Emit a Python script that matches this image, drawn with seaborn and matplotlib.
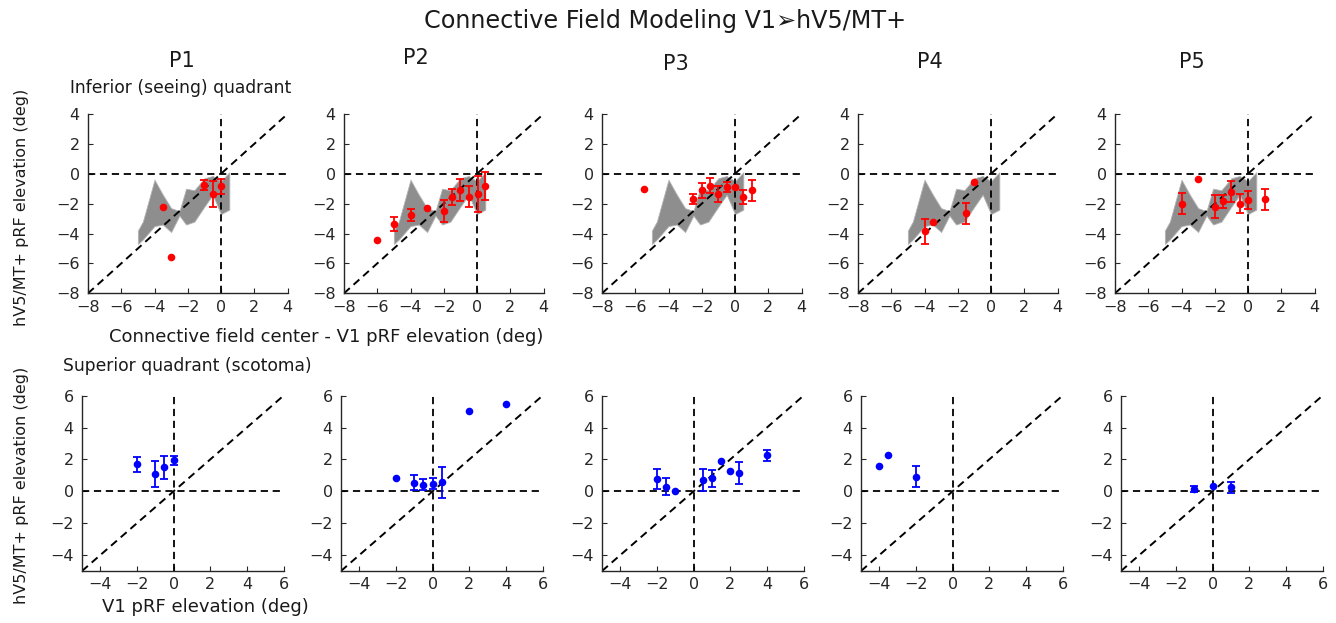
import numpy as np
import pandas as pd
import matplotlib
matplotlib.use("Agg")
import matplotlib.pyplot as plt
import seaborn as sns

# ---------------- data ----------------
participants = ["P1", "P2", "P3", "P4", "P5"]

# shared gray band (inferior quadrant)
band_x = [-5.0, -4.7, -4.0, -3.5, -3.0, -2.5, -2.1, -1.6, -1.0, -0.5, 0.0, 0.5]
band_upper = [-3.8, -3.2, -0.4, -1.4, -2.3, -2.5, -1.0, -1.1, -0.3, -0.15, -0.5, 0.1]
band_lower = [-4.7, -4.4, -3.5, -3.4, -3.9, -2.8, -3.4, -3.2, -2.2, -1.4, -2.7, -2.4]

# inferior (seeing) quadrant: x, y, error
inf_x_p1 = [-3.5, -3.0, -1.0, -0.5, 0.0]
inf_y_p1 = [-2.2, -5.55, -0.75, -1.35, -0.85]
inf_e_p1 = [0.0, 0.0, 0.33, 0.85, 0.5]

inf_x_p2 = [-6.0, -5.0, -4.0, -3.0, -2.0, -1.5, -1.0, -0.5, 0.05, 0.5]
inf_y_p2 = [-4.4, -3.35, -2.75, -2.3, -2.5, -1.55, -1.1, -1.55, -1.35, -0.8]
inf_e_p2 = [0.0, 0.45, 0.42, 0.0, 0.75, 0.55, 0.72, 0.7, 1.2, 0.95]

inf_x_p3 = [-5.5, -2.5, -2.0, -1.5, -1.0, -0.5, 0.0, 0.5, 1.0]
inf_y_p3 = [-1.0, -1.7, -1.1, -0.8, -1.35, -0.9, -0.9, -1.55, -1.1]
inf_e_p3 = [0.0, 0.35, 0.5, 0.52, 0.55, 0.33, 0.0, 0.47, 0.7]

inf_x_p4 = [-4.0, -3.5, -1.5, -1.0]
inf_y_p4 = [-3.85, -3.25, -2.65, -0.55]
inf_e_p4 = [0.83, 0.0, 0.7, 0.0]

inf_x_p5 = [-4.0, -3.0, -2.0, -1.5, -1.0, -0.5, 0.0, 1.0]
inf_y_p5 = [-2.0, -0.35, -2.2, -1.85, -1.2, -2.0, -1.75, -1.7]
inf_e_p5 = [0.72, 0.0, 0.76, 0.41, 0.7, 0.64, 0.61, 0.7]

# superior quadrant (scotoma): x, y, error
sup_x_p1 = [-2.0, -1.0, -0.5, 0.0]
sup_y_p1 = [1.7, 1.1, 1.5, 1.95]
sup_e_p1 = [0.47, 0.8, 0.73, 0.28]

sup_x_p2 = [-2.0, -1.0, -0.5, 0.0, 0.5, 2.0, 4.0]
sup_y_p2 = [0.85, 0.55, 0.42, 0.48, 0.58, 5.05, 5.45]
sup_e_p2 = [0.0, 0.47, 0.33, 0.33, 0.97, 0.0, 0.0]

sup_x_p3 = [-2.0, -1.5, -1.0, 0.5, 1.0, 1.5, 2.0, 2.5, 4.0]
sup_y_p3 = [0.75, 0.3, 0.0, 0.7, 0.82, 1.88, 1.3, 1.15, 2.25]
sup_e_p3 = [0.62, 0.54, 0.0, 0.68, 0.52, 0.0, 0.0, 0.7, 0.33]

sup_x_p4 = [-4.0, -3.5, -2.0]
sup_y_p4 = [1.6, 2.25, 0.92]
sup_e_p4 = [0.0, 0.0, 0.65]

sup_x_p5 = [-1.0, 0.0, 1.0]
sup_y_p5 = [0.15, 0.35, 0.25]
sup_e_p5 = [0.18, 0.0, 0.33]

top_ticks = [-8, -6, -4, -2, 0, 2, 4]
bot_ticks = [-4, -2, 0, 2, 4, 6]

inf_data = [(inf_x_p1, inf_y_p1, inf_e_p1), (inf_x_p2, inf_y_p2, inf_e_p2),
            (inf_x_p3, inf_y_p3, inf_e_p3), (inf_x_p4, inf_y_p4, inf_e_p4),
            (inf_x_p5, inf_y_p5, inf_e_p5)]
sup_data = [(sup_x_p1, sup_y_p1, sup_e_p1), (sup_x_p2, sup_y_p2, sup_e_p2),
            (sup_x_p3, sup_y_p3, sup_e_p3), (sup_x_p4, sup_y_p4, sup_e_p4),
            (sup_x_p5, sup_y_p5, sup_e_p5)]

# ---------------- style ----------------
sns.set_theme(style="white")
plt.rcParams["font.family"] = ["DejaVu Sans"]

W, H = 1336, 623
fig = plt.figure(figsize=(W / 100, H / 100), dpi=100)

top_left = [88, 344, 602, 858, 1115]
bot_left = [82, 341, 602, 861, 1121]

dash = (0, (4, 2.6))
spine_col = "#262626"


def style_axes(ax, lim, ticks):
    ax.set_xlim(*lim)
    ax.set_ylim(*lim)
    ax.set_xticks(ticks)
    ax.set_yticks(ticks)
    for s in ["top", "right"]:
        ax.spines[s].set_visible(False)
    for s in ["left", "bottom"]:
        ax.spines[s].set_color(spine_col)
        ax.spines[s].set_linewidth(1.0)
    ax.tick_params(direction="in", length=3.5, width=0.8, colors=spine_col,
                   labelsize=11.5, bottom=True, left=True)
    ax.tick_params(axis="x", pad=4.5)
    ax.tick_params(axis="y", pad=6.0)
    ax.set_xlabel("")
    ax.set_ylabel("")


def ref_lines(ax, lim):
    lo, hi = lim
    ax.plot([lo, hi], [lo, hi], color="black", lw=1.4, ls=dash, zorder=2)
    ax.plot([lo, hi], [0, 0], color="black", lw=1.3, ls=dash, zorder=2)
    ax.plot([0, 0], [lo, hi], color="black", lw=1.3, ls=dash, zorder=2)


def draw_points(ax, x, y, e, color):
    df = pd.DataFrame({"x": x, "y": y, "e": e})
    dfe = df[df["e"] > 0]
    ax.errorbar(dfe["x"], dfe["y"], yerr=dfe["e"], fmt="none", ecolor=color,
                elinewidth=1.3, capsize=3.2, capthick=1.3, zorder=4)
    sns.scatterplot(data=df, x="x", y="y", ax=ax, color=color, s=30,
                    edgecolor=color, linewidth=0, zorder=5, legend=False)


top_lim = (-8, 4)
bot_lim = (-5, 6)

for i in range(5):
    ax = fig.add_axes([top_left[i] / W, 1 - 293.3 / H, 199.5 / W, 179.3 / H])
    ax.fill_between(band_x, band_lower, band_upper, color="#8e8e8e",
                    edgecolor="#b4b4b4", linewidth=0.6, zorder=1)
    ref_lines(ax, top_lim)
    x, y, e = inf_data[i]
    draw_points(ax, x, y, e, "#ff0000")
    style_axes(ax, top_lim, top_ticks)

    axb = fig.add_axes([bot_left[i] / W, 1 - 571 / H, 201.5 / W, 175.3 / H])
    ref_lines(axb, bot_lim)
    x, y, e = sup_data[i]
    draw_points(axb, x, y, e, "#0000ff")
    style_axes(axb, bot_lim, bot_ticks)

# ---------------- texts ----------------
txt_col = "#1a1a1a"
fig.text(665 / W, 1 - 21 / H, "Connective Field Modeling V1\u27a2hV5/MT+",
         ha="center", va="center", fontsize=17.2, color=txt_col)

p_pos = [(182, 61), (416, 58), (676, 64), (930, 62), (1192, 62)]
for name, (px, py) in zip(participants, p_pos):
    fig.text(px / W, 1 - py / H, name, ha="center", va="center",
             fontsize=15, color=txt_col)

fig.text(70 / W, 1 - 88 / H, "Inferior (seeing) quadrant", ha="left",
         va="center", fontsize=12.3, color=txt_col)
fig.text(63 / W, 1 - 366 / H, "Superior quadrant (scotoma)", ha="left",
         va="center", fontsize=12.3, color=txt_col)
fig.text(326 / W, 1 - 337 / H, "Connective field center - V1 pRF elevation (deg)",
         ha="center", va="center", fontsize=13, color=txt_col)
fig.text(205 / W, 1 - 607 / H, "V1 pRF elevation (deg)",
         ha="center", va="center", fontsize=13, color=txt_col)
fig.text(22 / W, 1 - 207 / H, "hV5/MT+ pRF elevation (deg)", rotation=90,
         ha="center", va="center", fontsize=11.5, color=txt_col)
fig.text(22 / W, 1 - 485 / H, "hV5/MT+ pRF elevation (deg)", rotation=90,
         ha="center", va="center", fontsize=11.5, color=txt_col)

fig.savefig("out.png", dpi=100)
